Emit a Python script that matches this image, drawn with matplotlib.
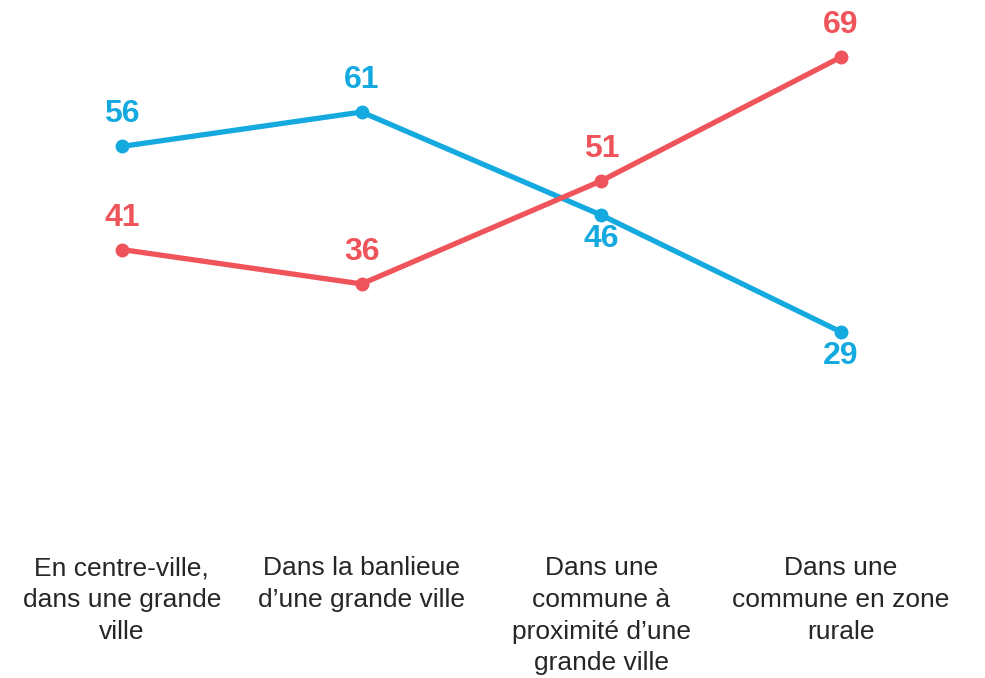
import matplotlib.pyplot as plt
import numpy as np

plt.rcParams['font.family'] = ['Liberation Sans', 'DejaVu Sans']

categories = [
    "En centre-ville,\ndans une grande\nville",
    "Dans la banlieue\nd\u2019une grande ville",
    "Dans une\ncommune \u00e0\nproximit\u00e9 d\u2019une\ngrande ville",
    "Dans une\ncommune en zone\nrurale",
]
blue_vals = [56, 61, 46, 29]
red_vals = [41, 36, 51, 69]
# where each value label sits: above (+1) or below (-1) the point
blue_pos = [1, 1, -1, -1]
red_pos = [1, 1, 1, 1]

blue = '#14A9DF'
red = '#EF545B'

fig = plt.figure(figsize=(9.85, 6.78), dpi=100)
ax = fig.add_axes([2 / 985, 0.2162, 959 / 985, 0.7808])
x = np.arange(len(categories))

for vals, pos, col in [(blue_vals, blue_pos, blue), (red_vals, red_pos, red)]:
    ax.plot(x, vals, color=col, lw=3.8, marker='o', markersize=9,
            solid_capstyle='round')
    for xi, v, p in zip(x, vals, pos):
        off = 23 if p > 0 else -17
        ax.annotate(str(v), (xi, v), xytext=(0, off), textcoords='offset points',
                    ha='center', va='center', fontsize=23, fontweight='bold',
                    color=col)

ax.set_xlim(-0.5, 3.5)
ax.set_ylim(0, 77)
ax.set_yticks([])
ax.set_xticks(x)
ax.set_xticklabels(categories, fontsize=19, color='#262626', linespacing=1.4,
                   multialignment='center')
ax.tick_params(axis='x', length=0, pad=18)
for s in ax.spines.values():
    s.set_visible(False)

plt.savefig('out.png', dpi=100)
